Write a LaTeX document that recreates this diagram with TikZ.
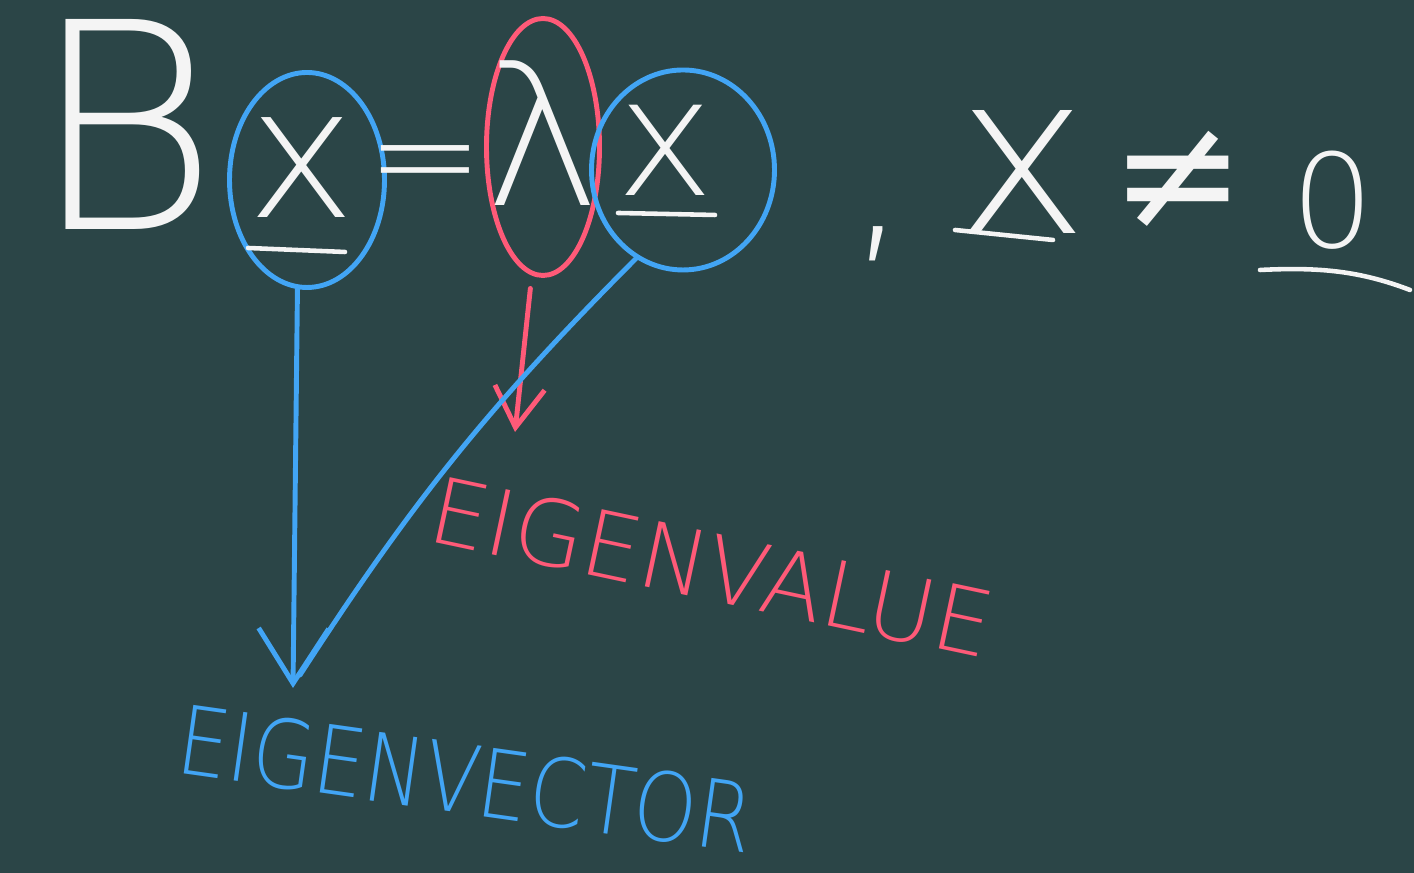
\documentclass[tikz,border=0pt]{standalone}
\usepackage{fontspec}
\usepackage{xcolor}
\usepackage{tikz}
\usetikzlibrary{arrows.meta,positioning,calc,shapes.geometric}
\IfFontExistsTF{DejaVuSans-ExtraLight.ttf}
  {\newfontfamily\handthin{DejaVuSans-ExtraLight.ttf}}
  {\newfontfamily\handthin{DejaVu Sans}}
\newfontfamily\hand{DejaVu Sans}
\definecolor{board}{HTML}{2B4547}
\definecolor{chalkW}{HTML}{F4F4F4}
\definecolor{penB}{HTML}{42A5F5}
\definecolor{penR}{HTML}{FF5A78}
\tikzset{
  chalk/.style={text=chalkW, inner sep=0pt},
  vecbar/.style={draw=chalkW, line width=1.3pt, line cap=round},
  ringB/.style={ellipse, draw=penB, line width=1.4pt, inner sep=0pt},
  ringR/.style={ellipse, draw=penR, line width=1.4pt, inner sep=0pt},
  flB/.style={-{Straight Barb[length=5.5mm,width=7mm]}, line width=1.4pt, line cap=round},
  flR/.style={-{Straight Barb[length=4mm,width=5mm]}, line width=1.4pt, line cap=round},
  ln/.style={line width=1.4pt, line cap=round},
  lblB/.style={text=penB, inner sep=0pt,
               font=\handthin\fontsize{27}{31}\selectfont\addfontfeatures{FakeStretch=0.85}},
  lblR/.style={text=penR, inner sep=0pt, font=\handthin\fontsize{26}{30}\selectfont},
}

\begin{document}
\begin{tikzpicture}
\useasboundingbox (0,0) rectangle (14.14,8.73);
\fill[board] (0,0) rectangle (14.14,8.73);
\node[chalk, font=\handthin\fontsize{82}{86}\selectfont, anchor=base] (B) at (1.25,6.43) {B};
\node[ringB, minimum width=1.55cm, minimum height=2.15cm] (ring1) at (3.07,6.93) {};
\node[chalk, font=\handthin\fontsize{52}{56}\selectfont] (x1) at (3.02,7.05) {x};
\draw[vecbar] (2.48,6.25) -- (3.45,6.21);
\node[chalk, font=\handthin\fontsize{40}{44}\selectfont] (eq) at (4.25,6.98) {=};
\node[ringR, minimum width=1.13cm, minimum height=2.57cm] (lam) at (5.43,7.26) {};
\node[chalk, font=\handthin\fontsize{56}{60}\selectfont] (lm) at (5.43,7.40) {λ};
\node[ringB, minimum width=1.83cm, minimum height=2.0cm] (ring2) at (6.83,7.03) {};
\node[chalk, font=\handthin\fontsize{47}{50}\selectfont] (x2) at (6.65,7.23) {x};
\draw[vecbar] (6.18,6.60) -- (7.15,6.58);
\node[chalk, font=\handthin\fontsize{55}{58}\selectfont] (cm) at (8.78,6.29) {,};
\node[chalk, font=\handthin\fontsize{64}{68}\selectfont] (x3) at (10.22,7.01) {x};
\draw[vecbar] (9.55,6.43) -- (10.53,6.33);
\node[chalk, font=\hand\fontsize{46}{50}\selectfont] (ne) at (11.78,6.93) {≠};
\node[chalk, font=\handthin\fontsize{37}{40}\selectfont] (zr) at (13.33,6.73) {0};
\draw[vecbar] (12.60,6.03) .. controls (13.2,6.06) and (13.6,6.02) .. (14.10,5.83);
\node[lblR, rotate=-12] (evl) at (7.12,3.06) {EIGENVALUE};
\node[lblB, rotate=-8] (evc) at (4.66,0.94) {EIGENVECTOR};
\coordinate (rtip) at (5.15,4.41);
\coordinate (btip) at (2.93,1.85);
\coordinate (bend) at (3.00,1.98);
\draw[flR, draw=penR, shorten <=1.3mm] (lam.-95) -- (rtip);
\draw[flB, draw=penB] (ring1.-95) -- (btip);
\draw[ln, draw=penB] (ring2.-118) to[bend right=6] (bend);
\end{tikzpicture}
\end{document}
